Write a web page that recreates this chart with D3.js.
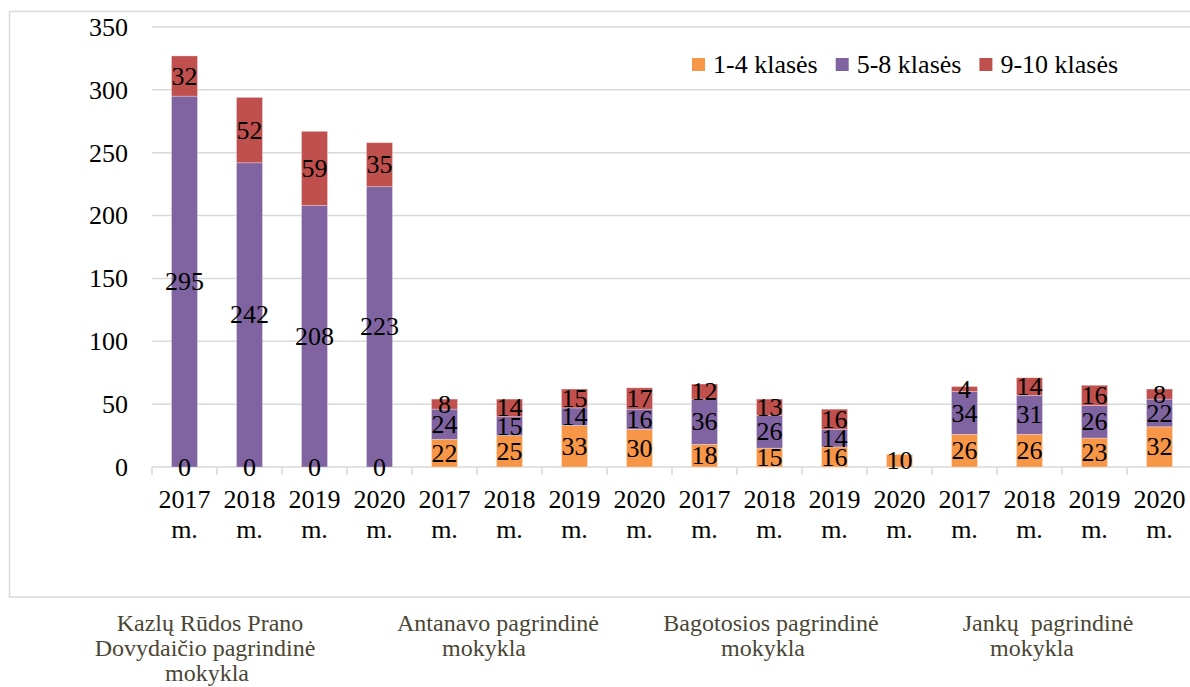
<!DOCTYPE html>
<html>
<head>
<meta charset="utf-8">
<script src="https://cdn.jsdelivr.net/npm/d3@7"></script>
<style>
  html, body { margin: 0; padding: 0; background: #fff; }
  svg { display: block; }
  text { font-family: "Liberation Serif", "Times New Roman", serif; }
</style>
</head>
<body>
<svg id="chart" width="1190" height="687"></svg>
<script>
// Pupils per school and year, split by class group
const schools = [
  ["Kazlų Rūdos Prano", "Dovydaičio pagrindinė", "mokykla"],
  ["Antanavo pagrindinė", "mokykla"],
  ["Bagotosios pagrindinė", "mokykla"],
  ["Jankų  pagrindinė", "mokykla"]
];
const years = ["2017 m.", "2018 m.", "2019 m.", "2020 m."];
const seriesNames = ["1-4 klasės", "5-8 klasės", "9-10 klasės"];
const seriesColors = ["#F79646", "#8064A2", "#C0504D"];

// one entry per bar, in school order, four years each
const grade1to4 = [0, 0, 0, 0, 22, 25, 33, 30, 18, 15, 16, 10, 26, 26, 23, 32];
const grade5to8 = [295, 242, 208, 223, 24, 15, 14, 16, 36, 26, 14, null, 34, 31, 26, 22];
const grade9to10 = [32, 52, 59, 35, 8, 14, 15, 17, 12, 13, 16, null, 4, 14, 16, 8];
const yTicks = [0, 50, 100, 150, 200, 250, 300, 350];

const svg = d3.select("#chart");
const W = 1190, H = 687;

// chart frame
svg.append("rect")
  .attr("x", 9.5).attr("y", 11.5)
  .attr("width", 1200).attr("height", 585.5)
  .attr("fill", "#fff").attr("stroke", "#d9d9d9").attr("stroke-width", 1.5);

const x0 = 152, x1 = 1192, yBase = 467, yTop = 27;

const bars = [];
schools.forEach((s, si) => years.forEach((yr, yi) => bars.push({ school: si, year: yr, idx: si * 4 + yi })));

const x = d3.scaleBand()
  .domain(bars.map(b => b.idx))
  .range([x0, x1])
  .paddingInner(0.6)
  .paddingOuter(0.3);

const y = d3.scaleLinear().domain([0, 350]).range([yBase, yTop]);

// gridlines
svg.append("g")
  .selectAll("line")
  .data(yTicks)
  .join("line")
  .attr("x1", x0).attr("x2", W)
  .attr("y1", d => y(d)).attr("y2", d => y(d))
  .attr("stroke", "#d9d9d9").attr("stroke-width", 1.5);

// y axis labels
const yAxis = d3.axisLeft(y).tickValues(yTicks).tickSize(0).tickPadding(0);
const gy = svg.append("g").attr("transform", "translate(128,0)").call(yAxis);
gy.select(".domain").remove();
gy.selectAll("text")
  .attr("font-family", "Liberation Serif, Times New Roman, serif")
  .attr("font-size", 26).attr("fill", "#000")
  .attr("dy", "0.32em");

// category tick marks at band edges
const step = x.step();
const edgeStart = x(0) - x.paddingInner() * step / 2;
const edges = d3.range(bars.length + 1).map(i => edgeStart + i * step);
svg.append("g")
  .selectAll("line")
  .data(edges)
  .join("line")
  .attr("x1", d => d).attr("x2", d => d)
  .attr("y1", yBase).attr("y2", yBase + 8)
  .attr("stroke", "#d9d9d9").attr("stroke-width", 1.5);

// stacked series
const rows = bars.map(b => ({
  idx: b.idx,
  s0: grade1to4[b.idx],
  s1: grade5to8[b.idx],
  s2: grade9to10[b.idx]
}));
const stack = d3.stack()
  .keys(["s0", "s1", "s2"])
  .value((d, k) => d[k] == null ? 0 : d[k]);
const stacked = stack(rows);

const segG = svg.append("g");
stacked.forEach((layer, li) => {
  segG.append("g")
    .attr("fill", seriesColors[li])
    .selectAll("rect")
    .data(layer.filter(d => d.data[layer.key] != null && d[1] > d[0]))
    .join("rect")
    .attr("x", d => x(d.data.idx))
    .attr("width", x.bandwidth())
    .attr("y", d => y(d[1]))
    .attr("height", d => y(d[0]) - y(d[1]))
    .attr("stroke", "rgba(255,255,255,0.35)")
    .attr("stroke-width", 0.8);
});

// value labels centred in each segment
const labG = svg.append("g");
stacked.forEach((layer) => {
  labG.append("g")
    .selectAll("text")
    .data(layer.filter(d => d.data[layer.key] != null))
    .join("text")
    .attr("x", d => x(d.data.idx) + x.bandwidth() / 2)
    .attr("y", d => y((d[0] + d[1]) / 2))
    .attr("dy", "0.33em")
    .attr("text-anchor", "middle")
    .attr("font-size", 26)
    .attr("fill", "#000")
    .text(d => d.data[layer.key]);
});

// year labels under each bar, two lines
const yrG = svg.append("g");
bars.forEach(b => {
  const parts = b.year.split(" ");
  const t = yrG.append("text")
    .attr("text-anchor", "middle")
    .attr("font-size", 26)
    .attr("fill", "#000");
  parts.forEach((p, i) => {
    t.append("tspan")
      .attr("x", x(b.idx) + x.bandwidth() / 2)
      .attr("y", 508 + i * 30)
      .text(p);
  });
});

// legend
const legG = svg.append("g");
let lx = 692;
seriesNames.forEach((name, i) => {
  legG.append("rect")
    .attr("x", lx).attr("y", 58)
    .attr("width", 13).attr("height", 13)
    .attr("fill", seriesColors[i]);
  const t = legG.append("text")
    .attr("x", lx + 21).attr("y", 73)
    .attr("font-size", 26).attr("fill", "#000")
    .text(name);
  lx += 21 + t.node().getComputedTextLength() + 18;
});

// school names beneath the chart frame
const nameCenters = [[210, 205, 207], [498, 484], [771, 763], [1048, 1032]];
const nameG = svg.append("g");
schools.forEach((lines, si) => {
  lines.forEach((line, li) => {
    nameG.append("text")
      .attr("x", nameCenters[si][li])
      .attr("y", 631 + li * 25)
      .attr("text-anchor", "middle")
      .attr("font-size", 24)
      .attr("fill", "#4a4634")
      .style("white-space", "pre")
      .text(line);
  });
});
</script>
</body>
</html>
